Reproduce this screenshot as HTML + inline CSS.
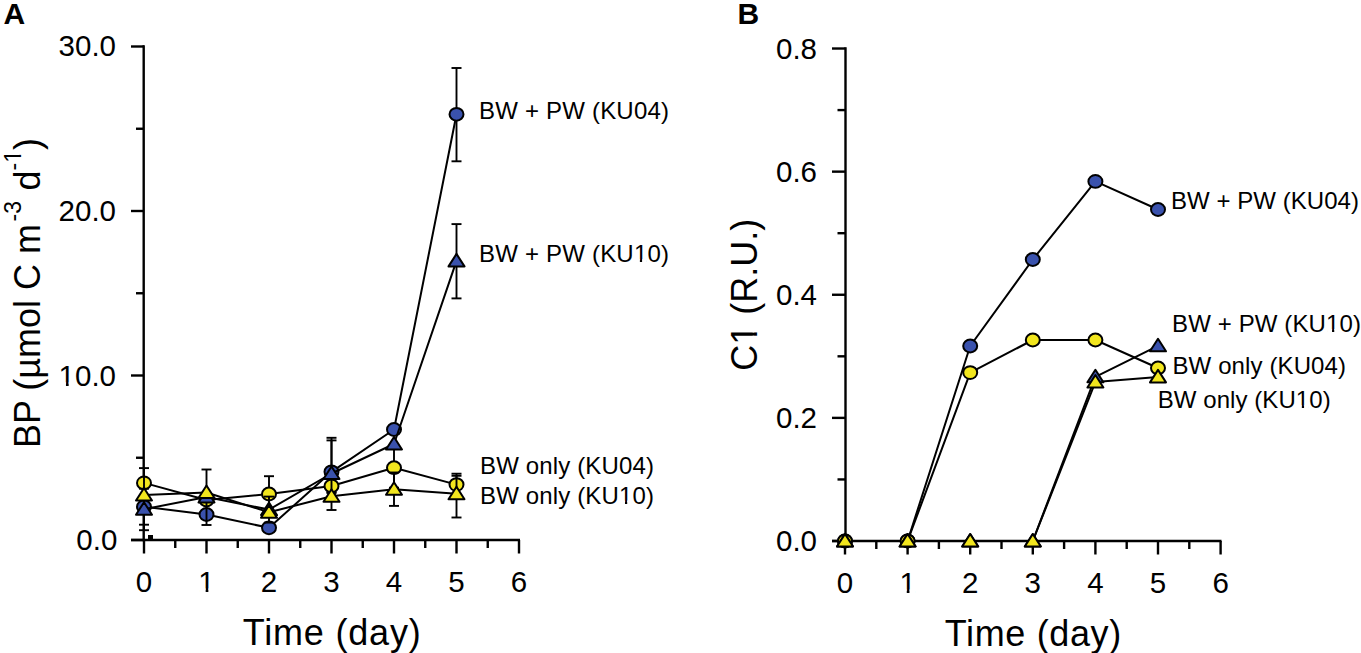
<!DOCTYPE html>
<html><head><meta charset="utf-8"><title>Figure</title>
<style>
html,body{margin:0;padding:0;background:#fff;}
body{width:1361px;height:653px;overflow:hidden;}
svg{display:block;font-family:"Liberation Sans",sans-serif;}
</style></head>
<body>
<svg width="1361" height="653" viewBox="0 0 1361 653">
<rect width="1361" height="653" fill="#fff"/>
<line x1="143.70" y1="45.30" x2="143.70" y2="541.20" stroke="#000" stroke-width="2.4" stroke-linecap="butt"/>
<line x1="131.00" y1="540.00" x2="520.00" y2="540.00" stroke="#000" stroke-width="2.4" stroke-linecap="butt"/>
<line x1="131.00" y1="540.00" x2="144.00" y2="540.00" stroke="#000" stroke-width="2.4" stroke-linecap="butt"/>
<line x1="131.00" y1="375.50" x2="144.00" y2="375.50" stroke="#000" stroke-width="2.4" stroke-linecap="butt"/>
<line x1="131.00" y1="211.00" x2="144.00" y2="211.00" stroke="#000" stroke-width="2.4" stroke-linecap="butt"/>
<line x1="131.00" y1="46.50" x2="144.00" y2="46.50" stroke="#000" stroke-width="2.4" stroke-linecap="butt"/>
<line x1="136.00" y1="457.75" x2="144.00" y2="457.75" stroke="#000" stroke-width="2.4" stroke-linecap="butt"/>
<line x1="136.00" y1="293.25" x2="144.00" y2="293.25" stroke="#000" stroke-width="2.4" stroke-linecap="butt"/>
<line x1="136.00" y1="128.75" x2="144.00" y2="128.75" stroke="#000" stroke-width="2.4" stroke-linecap="butt"/>
<line x1="144.00" y1="540.00" x2="144.00" y2="553.50" stroke="#000" stroke-width="2.4" stroke-linecap="butt"/>
<line x1="206.50" y1="540.00" x2="206.50" y2="553.50" stroke="#000" stroke-width="2.4" stroke-linecap="butt"/>
<line x1="269.00" y1="540.00" x2="269.00" y2="553.50" stroke="#000" stroke-width="2.4" stroke-linecap="butt"/>
<line x1="331.50" y1="540.00" x2="331.50" y2="553.50" stroke="#000" stroke-width="2.4" stroke-linecap="butt"/>
<line x1="394.00" y1="540.00" x2="394.00" y2="553.50" stroke="#000" stroke-width="2.4" stroke-linecap="butt"/>
<line x1="456.50" y1="540.00" x2="456.50" y2="553.50" stroke="#000" stroke-width="2.4" stroke-linecap="butt"/>
<line x1="519.00" y1="540.00" x2="519.00" y2="553.50" stroke="#000" stroke-width="2.4" stroke-linecap="butt"/>
<line x1="175.25" y1="540.00" x2="175.25" y2="548.00" stroke="#000" stroke-width="2.4" stroke-linecap="butt"/>
<line x1="237.75" y1="540.00" x2="237.75" y2="548.00" stroke="#000" stroke-width="2.4" stroke-linecap="butt"/>
<line x1="300.25" y1="540.00" x2="300.25" y2="548.00" stroke="#000" stroke-width="2.4" stroke-linecap="butt"/>
<line x1="362.75" y1="540.00" x2="362.75" y2="548.00" stroke="#000" stroke-width="2.4" stroke-linecap="butt"/>
<line x1="425.25" y1="540.00" x2="425.25" y2="548.00" stroke="#000" stroke-width="2.4" stroke-linecap="butt"/>
<line x1="487.75" y1="540.00" x2="487.75" y2="548.00" stroke="#000" stroke-width="2.4" stroke-linecap="butt"/>
<text x="117.30" y="550.30" font-size="29.5" text-anchor="end" font-weight="normal" >0.0</text>
<text x="116.00" y="385.80" font-size="29.5" text-anchor="end" font-weight="normal" >10.0</text>
<text x="116.00" y="221.30" font-size="29.5" text-anchor="end" font-weight="normal" >20.0</text>
<text x="116.00" y="55.80" font-size="29.5" text-anchor="end" font-weight="normal" >30.0</text>
<text x="144.00" y="592.00" font-size="29.5" text-anchor="middle" font-weight="normal" >0</text>
<text x="206.50" y="592.00" font-size="29.5" text-anchor="middle" font-weight="normal" >1</text>
<text x="269.00" y="592.00" font-size="29.5" text-anchor="middle" font-weight="normal" >2</text>
<text x="331.50" y="592.00" font-size="29.5" text-anchor="middle" font-weight="normal" >3</text>
<text x="394.00" y="592.00" font-size="29.5" text-anchor="middle" font-weight="normal" >4</text>
<text x="456.50" y="592.00" font-size="29.5" text-anchor="middle" font-weight="normal" >5</text>
<text x="519.00" y="592.00" font-size="29.5" text-anchor="middle" font-weight="normal" >6</text>
<text x="331.70" y="645.00" font-size="36" text-anchor="middle" font-weight="normal" textLength="178" lengthAdjust="spacing">Time (day)</text>
<text transform="translate(39.6,448) rotate(-90)" font-size="36">BP (µmol C m<tspan font-size="23" dy="-19" dx="2.5">-3</tspan><tspan dy="19" dx="0.5"> d</tspan><tspan font-size="23" dy="-19">-1</tspan><tspan dy="19">)</tspan></text>
<text x="3.60" y="24.00" font-size="30" text-anchor="start" font-weight="bold" >A</text>
<polyline points="144.00,482.90 206.50,500.00 269.00,494.00 331.50,486.00 394.00,467.70 456.50,484.60" fill="none" stroke="#000" stroke-width="2.0" stroke-linejoin="round"/>
<line x1="144.00" y1="468.10" x2="144.00" y2="497.70" stroke="#000" stroke-width="1.9" stroke-linecap="butt"/>
<line x1="139.00" y1="468.10" x2="149.00" y2="468.10" stroke="#000" stroke-width="1.9" stroke-linecap="butt"/>
<line x1="139.00" y1="497.70" x2="149.00" y2="497.70" stroke="#000" stroke-width="1.9" stroke-linecap="butt"/>
<line x1="269.00" y1="476.20" x2="269.00" y2="511.80" stroke="#000" stroke-width="1.9" stroke-linecap="butt"/>
<line x1="264.00" y1="476.20" x2="274.00" y2="476.20" stroke="#000" stroke-width="1.9" stroke-linecap="butt"/>
<line x1="264.00" y1="511.80" x2="274.00" y2="511.80" stroke="#000" stroke-width="1.9" stroke-linecap="butt"/>
<line x1="394.00" y1="447.70" x2="394.00" y2="487.70" stroke="#000" stroke-width="1.9" stroke-linecap="butt"/>
<line x1="389.00" y1="447.70" x2="399.00" y2="447.70" stroke="#000" stroke-width="1.9" stroke-linecap="butt"/>
<line x1="389.00" y1="487.70" x2="399.00" y2="487.70" stroke="#000" stroke-width="1.9" stroke-linecap="butt"/>
<line x1="456.50" y1="473.70" x2="456.50" y2="495.50" stroke="#000" stroke-width="1.9" stroke-linecap="butt"/>
<line x1="451.50" y1="473.70" x2="461.50" y2="473.70" stroke="#000" stroke-width="1.9" stroke-linecap="butt"/>
<line x1="451.50" y1="495.50" x2="461.50" y2="495.50" stroke="#000" stroke-width="1.9" stroke-linecap="butt"/>
<ellipse cx="144.00" cy="482.90" rx="7.0" ry="6.4" fill="#f2e61e" stroke="#000" stroke-width="2.0"/>
<ellipse cx="206.50" cy="500.00" rx="7.0" ry="6.4" fill="#f2e61e" stroke="#000" stroke-width="2.0"/>
<ellipse cx="269.00" cy="494.00" rx="7.0" ry="6.4" fill="#f2e61e" stroke="#000" stroke-width="2.0"/>
<ellipse cx="331.50" cy="486.00" rx="7.0" ry="6.4" fill="#f2e61e" stroke="#000" stroke-width="2.0"/>
<ellipse cx="394.00" cy="467.70" rx="7.0" ry="6.4" fill="#f2e61e" stroke="#000" stroke-width="2.0"/>
<ellipse cx="456.50" cy="484.60" rx="7.0" ry="6.4" fill="#f2e61e" stroke="#000" stroke-width="2.0"/>
<polyline points="144.00,506.70 206.50,514.50 269.00,527.80 331.50,471.80 394.00,429.50 456.50,114.30" fill="none" stroke="#000" stroke-width="2.0" stroke-linejoin="round"/>
<line x1="144.00" y1="488.70" x2="144.00" y2="524.70" stroke="#000" stroke-width="1.9" stroke-linecap="butt"/>
<line x1="139.00" y1="488.70" x2="149.00" y2="488.70" stroke="#000" stroke-width="1.9" stroke-linecap="butt"/>
<line x1="139.00" y1="524.70" x2="149.00" y2="524.70" stroke="#000" stroke-width="1.9" stroke-linecap="butt"/>
<line x1="331.50" y1="437.80" x2="331.50" y2="471.80" stroke="#000" stroke-width="1.9" stroke-linecap="butt"/>
<line x1="326.50" y1="437.80" x2="336.50" y2="437.80" stroke="#000" stroke-width="1.9" stroke-linecap="butt"/>
<line x1="326.50" y1="471.80" x2="336.50" y2="471.80" stroke="#000" stroke-width="1.9" stroke-linecap="butt"/>
<line x1="456.50" y1="68.00" x2="456.50" y2="161.30" stroke="#000" stroke-width="1.9" stroke-linecap="butt"/>
<line x1="451.50" y1="68.00" x2="461.50" y2="68.00" stroke="#000" stroke-width="1.9" stroke-linecap="butt"/>
<line x1="451.50" y1="161.30" x2="461.50" y2="161.30" stroke="#000" stroke-width="1.9" stroke-linecap="butt"/>
<ellipse cx="144.00" cy="506.70" rx="7.0" ry="6.4" fill="#3a52ad" stroke="#000" stroke-width="2.0"/>
<ellipse cx="206.50" cy="514.50" rx="7.0" ry="6.4" fill="#3a52ad" stroke="#000" stroke-width="2.0"/>
<ellipse cx="269.00" cy="527.80" rx="7.0" ry="6.4" fill="#3a52ad" stroke="#000" stroke-width="2.0"/>
<ellipse cx="331.50" cy="471.80" rx="7.0" ry="6.4" fill="#3a52ad" stroke="#000" stroke-width="2.0"/>
<ellipse cx="394.00" cy="429.50" rx="7.0" ry="6.4" fill="#3a52ad" stroke="#000" stroke-width="2.0"/>
<ellipse cx="456.50" cy="114.30" rx="7.0" ry="6.4" fill="#3a52ad" stroke="#000" stroke-width="2.0"/>
<polyline points="144.00,509.20 206.50,497.00 269.00,509.60 331.50,473.50 394.00,444.00 456.50,260.90" fill="none" stroke="#000" stroke-width="2.0" stroke-linejoin="round"/>
<line x1="144.00" y1="476.50" x2="144.00" y2="530.20" stroke="#000" stroke-width="1.9" stroke-linecap="butt"/>
<line x1="139.00" y1="530.20" x2="149.00" y2="530.20" stroke="#000" stroke-width="1.9" stroke-linecap="butt"/>
<line x1="206.50" y1="469.50" x2="206.50" y2="525.00" stroke="#000" stroke-width="1.9" stroke-linecap="butt"/>
<line x1="201.50" y1="469.50" x2="211.50" y2="469.50" stroke="#000" stroke-width="1.9" stroke-linecap="butt"/>
<line x1="201.50" y1="525.00" x2="211.50" y2="525.00" stroke="#000" stroke-width="1.9" stroke-linecap="butt"/>
<line x1="269.00" y1="496.60" x2="269.00" y2="522.60" stroke="#000" stroke-width="1.9" stroke-linecap="butt"/>
<line x1="264.00" y1="496.60" x2="274.00" y2="496.60" stroke="#000" stroke-width="1.9" stroke-linecap="butt"/>
<line x1="264.00" y1="522.60" x2="274.00" y2="522.60" stroke="#000" stroke-width="1.9" stroke-linecap="butt"/>
<line x1="331.50" y1="440.40" x2="331.50" y2="493.00" stroke="#000" stroke-width="1.9" stroke-linecap="butt"/>
<line x1="326.50" y1="440.40" x2="336.50" y2="440.40" stroke="#000" stroke-width="1.9" stroke-linecap="butt"/>
<line x1="326.50" y1="493.00" x2="336.50" y2="493.00" stroke="#000" stroke-width="1.9" stroke-linecap="butt"/>
<line x1="456.50" y1="224.10" x2="456.50" y2="298.40" stroke="#000" stroke-width="1.9" stroke-linecap="butt"/>
<line x1="451.50" y1="224.10" x2="461.50" y2="224.10" stroke="#000" stroke-width="1.9" stroke-linecap="butt"/>
<line x1="451.50" y1="298.40" x2="461.50" y2="298.40" stroke="#000" stroke-width="1.9" stroke-linecap="butt"/>
<path d="M144.00,502.20 L152.00,514.70 L136.00,514.70 Z" fill="#3a52ad" stroke="#000" stroke-width="2.0" stroke-linejoin="round"/>
<path d="M206.50,490.00 L214.50,502.50 L198.50,502.50 Z" fill="#3a52ad" stroke="#000" stroke-width="2.0" stroke-linejoin="round"/>
<path d="M269.00,502.60 L277.00,515.10 L261.00,515.10 Z" fill="#3a52ad" stroke="#000" stroke-width="2.0" stroke-linejoin="round"/>
<path d="M331.50,466.50 L339.50,479.00 L323.50,479.00 Z" fill="#3a52ad" stroke="#000" stroke-width="2.0" stroke-linejoin="round"/>
<path d="M394.00,437.00 L402.00,449.50 L386.00,449.50 Z" fill="#3a52ad" stroke="#000" stroke-width="2.0" stroke-linejoin="round"/>
<path d="M456.50,253.90 L464.50,266.40 L448.50,266.40 Z" fill="#3a52ad" stroke="#000" stroke-width="2.0" stroke-linejoin="round"/>
<polyline points="144.00,495.00 206.50,492.50 269.00,512.30 331.50,496.30 394.00,489.20 456.50,493.70" fill="none" stroke="#000" stroke-width="2.0" stroke-linejoin="round"/>
<line x1="331.50" y1="492.00" x2="331.50" y2="510.00" stroke="#000" stroke-width="1.9" stroke-linecap="butt"/>
<line x1="326.50" y1="492.00" x2="336.50" y2="492.00" stroke="#000" stroke-width="1.9" stroke-linecap="butt"/>
<line x1="326.50" y1="510.00" x2="336.50" y2="510.00" stroke="#000" stroke-width="1.9" stroke-linecap="butt"/>
<line x1="394.00" y1="472.50" x2="394.00" y2="505.90" stroke="#000" stroke-width="1.9" stroke-linecap="butt"/>
<line x1="389.00" y1="472.50" x2="399.00" y2="472.50" stroke="#000" stroke-width="1.9" stroke-linecap="butt"/>
<line x1="389.00" y1="505.90" x2="399.00" y2="505.90" stroke="#000" stroke-width="1.9" stroke-linecap="butt"/>
<line x1="456.50" y1="475.80" x2="456.50" y2="517.50" stroke="#000" stroke-width="1.9" stroke-linecap="butt"/>
<line x1="451.50" y1="475.80" x2="461.50" y2="475.80" stroke="#000" stroke-width="1.9" stroke-linecap="butt"/>
<line x1="451.50" y1="517.50" x2="461.50" y2="517.50" stroke="#000" stroke-width="1.9" stroke-linecap="butt"/>
<path d="M144.00,488.00 L152.00,500.50 L136.00,500.50 Z" fill="#f2e61e" stroke="#000" stroke-width="2.0" stroke-linejoin="round"/>
<path d="M206.50,485.50 L214.50,498.00 L198.50,498.00 Z" fill="#f2e61e" stroke="#000" stroke-width="2.0" stroke-linejoin="round"/>
<path d="M269.00,505.30 L277.00,517.80 L261.00,517.80 Z" fill="#f2e61e" stroke="#000" stroke-width="2.0" stroke-linejoin="round"/>
<path d="M331.50,489.30 L339.50,501.80 L323.50,501.80 Z" fill="#f2e61e" stroke="#000" stroke-width="2.0" stroke-linejoin="round"/>
<path d="M394.00,482.20 L402.00,494.70 L386.00,494.70 Z" fill="#f2e61e" stroke="#000" stroke-width="2.0" stroke-linejoin="round"/>
<path d="M456.50,486.70 L464.50,499.20 L448.50,499.20 Z" fill="#f2e61e" stroke="#000" stroke-width="2.0" stroke-linejoin="round"/>
<rect x="148" y="535" width="5" height="5" fill="#000"/>
<text x="479.00" y="119.00" font-size="24" text-anchor="start" font-weight="normal" textLength="190" lengthAdjust="spacing">BW + PW (KU04)</text>
<text x="479.00" y="262.40" font-size="24" text-anchor="start" font-weight="normal" textLength="190" lengthAdjust="spacing">BW + PW (KU10)</text>
<text x="480.00" y="473.50" font-size="24" text-anchor="start" font-weight="normal" textLength="174" lengthAdjust="spacing">BW only (KU04)</text>
<text x="480.00" y="503.60" font-size="24" text-anchor="start" font-weight="normal" textLength="174" lengthAdjust="spacing">BW only (KU10)</text>
<line x1="845.50" y1="47.30" x2="845.50" y2="542.20" stroke="#000" stroke-width="2.4" stroke-linecap="butt"/>
<line x1="832.00" y1="541.00" x2="1221.50" y2="541.00" stroke="#000" stroke-width="2.4" stroke-linecap="butt"/>
<line x1="832.00" y1="541.00" x2="845.50" y2="541.00" stroke="#000" stroke-width="2.4" stroke-linecap="butt"/>
<line x1="832.00" y1="417.88" x2="845.50" y2="417.88" stroke="#000" stroke-width="2.4" stroke-linecap="butt"/>
<line x1="832.00" y1="294.76" x2="845.50" y2="294.76" stroke="#000" stroke-width="2.4" stroke-linecap="butt"/>
<line x1="832.00" y1="171.64" x2="845.50" y2="171.64" stroke="#000" stroke-width="2.4" stroke-linecap="butt"/>
<line x1="832.00" y1="48.52" x2="845.50" y2="48.52" stroke="#000" stroke-width="2.4" stroke-linecap="butt"/>
<line x1="837.50" y1="479.44" x2="845.50" y2="479.44" stroke="#000" stroke-width="2.4" stroke-linecap="butt"/>
<line x1="837.50" y1="356.32" x2="845.50" y2="356.32" stroke="#000" stroke-width="2.4" stroke-linecap="butt"/>
<line x1="837.50" y1="233.20" x2="845.50" y2="233.20" stroke="#000" stroke-width="2.4" stroke-linecap="butt"/>
<line x1="837.50" y1="110.08" x2="845.50" y2="110.08" stroke="#000" stroke-width="2.4" stroke-linecap="butt"/>
<line x1="845.00" y1="541.00" x2="845.00" y2="554.50" stroke="#000" stroke-width="2.4" stroke-linecap="butt"/>
<line x1="907.60" y1="541.00" x2="907.60" y2="554.50" stroke="#000" stroke-width="2.4" stroke-linecap="butt"/>
<line x1="970.20" y1="541.00" x2="970.20" y2="554.50" stroke="#000" stroke-width="2.4" stroke-linecap="butt"/>
<line x1="1032.80" y1="541.00" x2="1032.80" y2="554.50" stroke="#000" stroke-width="2.4" stroke-linecap="butt"/>
<line x1="1095.40" y1="541.00" x2="1095.40" y2="554.50" stroke="#000" stroke-width="2.4" stroke-linecap="butt"/>
<line x1="1158.00" y1="541.00" x2="1158.00" y2="554.50" stroke="#000" stroke-width="2.4" stroke-linecap="butt"/>
<line x1="1220.60" y1="541.00" x2="1220.60" y2="554.50" stroke="#000" stroke-width="2.4" stroke-linecap="butt"/>
<line x1="876.30" y1="541.00" x2="876.30" y2="549.00" stroke="#000" stroke-width="2.4" stroke-linecap="butt"/>
<line x1="938.90" y1="541.00" x2="938.90" y2="549.00" stroke="#000" stroke-width="2.4" stroke-linecap="butt"/>
<line x1="1001.50" y1="541.00" x2="1001.50" y2="549.00" stroke="#000" stroke-width="2.4" stroke-linecap="butt"/>
<line x1="1064.10" y1="541.00" x2="1064.10" y2="549.00" stroke="#000" stroke-width="2.4" stroke-linecap="butt"/>
<line x1="1126.70" y1="541.00" x2="1126.70" y2="549.00" stroke="#000" stroke-width="2.4" stroke-linecap="butt"/>
<line x1="1189.30" y1="541.00" x2="1189.30" y2="549.00" stroke="#000" stroke-width="2.4" stroke-linecap="butt"/>
<text x="817.00" y="551.30" font-size="29.5" text-anchor="end" font-weight="normal" >0.0</text>
<text x="817.00" y="428.18" font-size="29.5" text-anchor="end" font-weight="normal" >0.2</text>
<text x="817.00" y="305.06" font-size="29.5" text-anchor="end" font-weight="normal" >0.4</text>
<text x="817.00" y="181.94" font-size="29.5" text-anchor="end" font-weight="normal" >0.6</text>
<text x="817.00" y="58.82" font-size="29.5" text-anchor="end" font-weight="normal" >0.8</text>
<text x="845.00" y="593.00" font-size="29.5" text-anchor="middle" font-weight="normal" >0</text>
<text x="907.60" y="593.00" font-size="29.5" text-anchor="middle" font-weight="normal" >1</text>
<text x="970.20" y="593.00" font-size="29.5" text-anchor="middle" font-weight="normal" >2</text>
<text x="1032.80" y="593.00" font-size="29.5" text-anchor="middle" font-weight="normal" >3</text>
<text x="1095.40" y="593.00" font-size="29.5" text-anchor="middle" font-weight="normal" >4</text>
<text x="1158.00" y="593.00" font-size="29.5" text-anchor="middle" font-weight="normal" >5</text>
<text x="1220.60" y="593.00" font-size="29.5" text-anchor="middle" font-weight="normal" >6</text>
<text x="1033.00" y="646.00" font-size="36" text-anchor="middle" font-weight="normal" textLength="176.5" lengthAdjust="spacing">Time (day)</text>
<text transform="translate(756.6,370.7) rotate(-90)" font-size="36">C1 (R.U.)</text>
<text x="737.50" y="24.00" font-size="30" text-anchor="start" font-weight="bold" >B</text>
<polyline points="845.00,541.00 907.60,541.00 970.20,346.00 1032.80,259.50 1095.40,181.40 1158.00,209.50" fill="none" stroke="#000" stroke-width="2.0" stroke-linejoin="round"/>
<polyline points="845.00,541.00 907.60,541.00 970.20,372.60 1032.80,340.00 1095.40,340.00 1158.00,368.00" fill="none" stroke="#000" stroke-width="2.0" stroke-linejoin="round"/>
<polyline points="845.00,541.00 907.60,541.00 970.20,541.00 1032.80,541.00 1095.40,376.80 1158.00,345.80" fill="none" stroke="#000" stroke-width="2.0" stroke-linejoin="round"/>
<polyline points="845.00,541.00 907.60,541.00 970.20,541.00 1032.80,541.00 1095.40,382.00 1158.00,376.90" fill="none" stroke="#000" stroke-width="2.0" stroke-linejoin="round"/>
<ellipse cx="845.00" cy="541.00" rx="7.0" ry="6.4" fill="#3a52ad" stroke="#000" stroke-width="2.0"/>
<ellipse cx="907.60" cy="541.00" rx="7.0" ry="6.4" fill="#3a52ad" stroke="#000" stroke-width="2.0"/>
<ellipse cx="970.20" cy="346.00" rx="7.0" ry="6.4" fill="#3a52ad" stroke="#000" stroke-width="2.0"/>
<ellipse cx="1032.80" cy="259.50" rx="7.0" ry="6.4" fill="#3a52ad" stroke="#000" stroke-width="2.0"/>
<ellipse cx="1095.40" cy="181.40" rx="7.0" ry="6.4" fill="#3a52ad" stroke="#000" stroke-width="2.0"/>
<ellipse cx="1158.00" cy="209.50" rx="7.0" ry="6.4" fill="#3a52ad" stroke="#000" stroke-width="2.0"/>
<ellipse cx="845.00" cy="541.00" rx="7.0" ry="6.4" fill="#f2e61e" stroke="#000" stroke-width="2.0"/>
<ellipse cx="907.60" cy="541.00" rx="7.0" ry="6.4" fill="#f2e61e" stroke="#000" stroke-width="2.0"/>
<ellipse cx="970.20" cy="372.60" rx="7.0" ry="6.4" fill="#f2e61e" stroke="#000" stroke-width="2.0"/>
<ellipse cx="1032.80" cy="340.00" rx="7.0" ry="6.4" fill="#f2e61e" stroke="#000" stroke-width="2.0"/>
<ellipse cx="1095.40" cy="340.00" rx="7.0" ry="6.4" fill="#f2e61e" stroke="#000" stroke-width="2.0"/>
<ellipse cx="1158.00" cy="368.00" rx="7.0" ry="6.4" fill="#f2e61e" stroke="#000" stroke-width="2.0"/>
<path d="M845.00,534.00 L853.00,546.50 L837.00,546.50 Z" fill="#3a52ad" stroke="#000" stroke-width="2.0" stroke-linejoin="round"/>
<path d="M907.60,534.00 L915.60,546.50 L899.60,546.50 Z" fill="#3a52ad" stroke="#000" stroke-width="2.0" stroke-linejoin="round"/>
<path d="M970.20,534.00 L978.20,546.50 L962.20,546.50 Z" fill="#3a52ad" stroke="#000" stroke-width="2.0" stroke-linejoin="round"/>
<path d="M1032.80,534.00 L1040.80,546.50 L1024.80,546.50 Z" fill="#3a52ad" stroke="#000" stroke-width="2.0" stroke-linejoin="round"/>
<path d="M1095.40,369.80 L1103.40,382.30 L1087.40,382.30 Z" fill="#3a52ad" stroke="#000" stroke-width="2.0" stroke-linejoin="round"/>
<path d="M1158.00,338.80 L1166.00,351.30 L1150.00,351.30 Z" fill="#3a52ad" stroke="#000" stroke-width="2.0" stroke-linejoin="round"/>
<path d="M845.00,534.00 L853.00,546.50 L837.00,546.50 Z" fill="#f2e61e" stroke="#000" stroke-width="2.0" stroke-linejoin="round"/>
<path d="M907.60,534.00 L915.60,546.50 L899.60,546.50 Z" fill="#f2e61e" stroke="#000" stroke-width="2.0" stroke-linejoin="round"/>
<path d="M970.20,534.00 L978.20,546.50 L962.20,546.50 Z" fill="#f2e61e" stroke="#000" stroke-width="2.0" stroke-linejoin="round"/>
<path d="M1032.80,534.00 L1040.80,546.50 L1024.80,546.50 Z" fill="#f2e61e" stroke="#000" stroke-width="2.0" stroke-linejoin="round"/>
<path d="M1095.40,375.00 L1103.40,387.50 L1087.40,387.50 Z" fill="#f2e61e" stroke="#000" stroke-width="2.0" stroke-linejoin="round"/>
<path d="M1158.00,369.90 L1166.00,382.40 L1150.00,382.40 Z" fill="#f2e61e" stroke="#000" stroke-width="2.0" stroke-linejoin="round"/>
<text x="1171.00" y="208.70" font-size="24" text-anchor="start" font-weight="normal" textLength="188" lengthAdjust="spacing">BW + PW (KU04)</text>
<text x="1172.00" y="332.20" font-size="24" text-anchor="start" font-weight="normal" textLength="189" lengthAdjust="spacing">BW + PW (KU10)</text>
<text x="1172.50" y="373.50" font-size="24" text-anchor="start" font-weight="normal" textLength="173.5" lengthAdjust="spacing">BW only (KU04)</text>
<text x="1157.70" y="408.40" font-size="24" text-anchor="start" font-weight="normal" textLength="173" lengthAdjust="spacing">BW only (KU10)</text>
<rect x="60.03" y="382.30" width="5.92" height="5.10" fill="#fff"/>
<rect x="68.65" y="382.30" width="5.69" height="5.10" fill="#fff"/>
<rect x="199.74" y="588.50" width="5.92" height="5.10" fill="#fff"/>
<rect x="208.36" y="588.50" width="5.69" height="5.10" fill="#fff"/>
<rect x="286.20" y="-22.02" width="4.78" height="4.62" fill="#fff" transform="translate(39.6,448) rotate(-90)"/>
<rect x="293.12" y="-22.02" width="4.60" height="4.62" fill="#fff" transform="translate(39.6,448) rotate(-90)"/>
<rect x="634.92" y="259.31" width="4.96" height="4.69" fill="#fff"/>
<rect x="642.09" y="259.31" width="4.77" height="4.69" fill="#fff"/>
<rect x="620.03" y="500.51" width="4.96" height="4.69" fill="#fff"/>
<rect x="627.20" y="500.51" width="4.77" height="4.69" fill="#fff"/>
<rect x="900.84" y="589.50" width="5.92" height="5.10" fill="#fff"/>
<rect x="909.46" y="589.50" width="5.69" height="5.10" fill="#fff"/>
<rect x="27.93" y="-3.99" width="7.06" height="5.59" fill="#fff" transform="translate(756.6,370.7) rotate(-90)"/>
<rect x="38.27" y="-3.99" width="6.78" height="5.59" fill="#fff" transform="translate(756.6,370.7) rotate(-90)"/>
<rect x="1327.07" y="329.11" width="4.96" height="4.69" fill="#fff"/>
<rect x="1334.25" y="329.11" width="4.77" height="4.69" fill="#fff"/>
<rect x="1296.88" y="405.31" width="4.96" height="4.69" fill="#fff"/>
<rect x="1304.06" y="405.31" width="4.77" height="4.69" fill="#fff"/>
</svg>
</body></html>
